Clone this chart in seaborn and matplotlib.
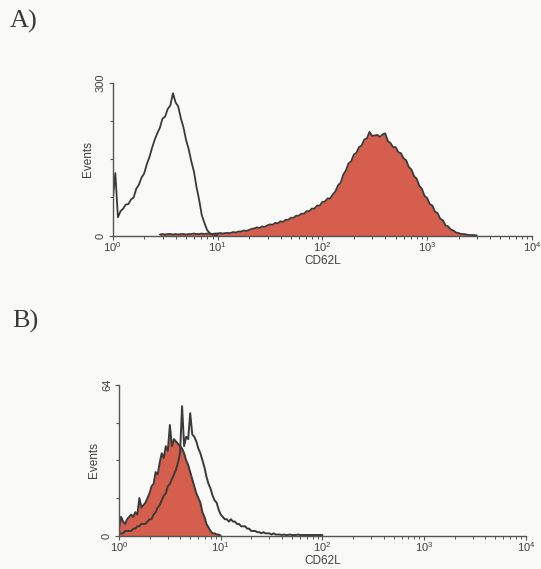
import numpy as np
import matplotlib
matplotlib.use("Agg")
import matplotlib.pyplot as plt
import seaborn as sns
from matplotlib.ticker import FixedLocator, LogLocator, NullFormatter

# ---------------- data ----------------
# channel grids are given in decades (log10 of CD62L intensity)
a_open_start, a_open_step = 0.0, 0.025
a_open_counts = [68, 123, 36, 48, 53, 61, 62, 71, 75, 92, 100, 114, 122, 140, 154, 172,
                 188, 201, 212, 230, 234, 249, 256, 280, 262, 254, 231, 213, 188, 170,
                 146, 126, 95, 70, 40, 25, 11, 5, 2, 1, 1]

a_fill_start, a_fill_step = 0.45, 0.025
a_fill_counts = [2, 3, 2, 3, 3, 2, 3, 2, 3, 3, 2, 3, 3, 4, 3, 3, 4, 3, 4, 4, 3, 4, 4, 5, 4, 5, 5,
                 5, 7, 6, 8, 8, 10, 9, 11, 13, 14,
                 16, 15, 18, 17, 20, 22, 21, 25, 24, 28,
                 27, 31, 31, 35, 35, 39, 39, 43, 43, 48,
                 48, 53, 53, 59, 59, 66, 67, 73, 73, 81,
                 87, 99, 104, 120, 128, 142, 146, 159, 163, 174,
                 177, 189, 191, 204, 196, 197, 198, 194, 199, 201,
                 186, 182, 174, 174, 164, 162, 152, 148, 135, 130,
                 117, 112, 98, 92, 78, 74, 62, 59, 47, 44,
                 33, 30, 20, 18, 12, 10, 6, 5, 3, 3,
                 2, 1, 1, 1, 0]

b_fill_start, b_fill_step = 0.0, 0.02
b_fill_counts = [3, 8, 6, 5, 7, 8, 9, 8, 10, 9, 16, 12, 13, 14, 16, 18, 21, 22, 27, 26, 31,
                 35, 33, 38, 36, 47, 38, 41, 40, 39, 38, 37, 35, 32, 30, 27, 24, 21, 18, 16,
                 14, 10, 8, 5, 3.5, 2, 1, 1, 0.5, 0.5, 0]

b_open_start, b_open_step = 0.0, 0.02
b_open_counts = [1, 1, 1, 2, 2, 2, 2, 3, 3, 4, 4, 5, 5, 5, 6, 7, 7, 9, 10, 12, 13, 15, 17,
                 18, 21, 22, 24, 26, 28, 31, 35, 55, 38, 42, 41, 52, 43, 42, 40, 37, 35, 32,
                 29, 25, 22, 20, 17, 15, 14, 11, 9, 8, 7, 7, 6, 7, 6, 6, 5, 5, 4, 4, 4, 3,
                 3, 2, 2, 2, 1.5, 1.5, 1, 1.5, 1, 1, 1, 0.5, 1, 0.5, 0.5, 0.5, 0.3, 0.5,
                 0.3, 0.3, 0.5, 0.3, 0.3, 0.3, 0.5, 0.3, 0.3, 0.3, 0.3, 0.3, 0.3, 0.3, 0.3,
                 0.3, 0.3, 0.3, 0.3]

decade_labels = [r"$10^{0}$", r"$10^{1}$", r"$10^{2}$", r"$10^{3}$", r"$10^{4}$"]
x_label = "CD62L"
y_label = "Events"
panel_labels = ["A)", "B)"]
a_ymax, b_ymax = 300, 64

# ---------------- style ----------------
sns.set_theme(style="white")
plt.rcParams["font.family"] = ["Liberation Sans", "DejaVu Sans"]
plt.rcParams["mathtext.default"] = "regular"

BG = "#f9f9f7"
LINE = "#3a3a3a"
AXC = "#555555"
FILL = "#d55f4c"
TXT = "#404040"


def grid(start, step, counts):
    return 10 ** (start + step * np.arange(len(counts)))


fig = plt.figure(figsize=(5.41, 5.69), dpi=100, facecolor=BG)
axA = fig.add_axes([0.2083, 0.586, 0.775, 0.268])
axB = fig.add_axes([0.2200, 0.0585, 0.752, 0.265])


def style_axis(ax, ymax):
    ax.set_facecolor(BG)
    ax.set_xscale("log")
    ax.set_xlim(1, 1e4)
    ax.set_ylim(0, ymax)
    for s in ["top", "right"]:
        ax.spines[s].set_visible(False)
    for s in ["left", "bottom"]:
        ax.spines[s].set_color(AXC)
        ax.spines[s].set_linewidth(1.0)
    ax.xaxis.set_major_locator(FixedLocator([1, 10, 100, 1000, 10000]))
    ax.set_xticklabels(decade_labels)
    ax.xaxis.set_minor_locator(LogLocator(base=10, subs=np.arange(2, 10), numticks=20))
    ax.xaxis.set_minor_formatter(NullFormatter())
    ax.yaxis.set_major_locator(FixedLocator([0, ymax]))
    ax.set_yticklabels(["0", str(ymax)])
    ax.yaxis.set_minor_locator(FixedLocator([ymax / 4, ymax / 2, 3 * ymax / 4]))
    ax.tick_params(axis="x", which="major", direction="out", length=3, width=0.8,
                   color=AXC, labelsize=8, labelcolor=TXT, pad=0.5, bottom=True)
    ax.tick_params(axis="x", which="minor", direction="out", length=2, width=0.7,
                   color=AXC, bottom=True)
    ax.tick_params(axis="y", which="major", direction="out", length=3, width=0.8,
                   color=AXC, labelsize=8, labelcolor=TXT, pad=2, left=True,
                   labelrotation=90)
    ax.tick_params(axis="y", which="minor", direction="out", length=2.5, width=0.8,
                   color=AXC, left=True)
    for lab in ax.get_yticklabels():
        lab.set_va("center")
    ax.set_xlabel(x_label, fontsize=8.5, color=TXT, labelpad=0.5)
    ax.set_ylabel(y_label, fontsize=8.5, color=TXT, labelpad=1.5)


# Panel A
xa_f = grid(a_fill_start, a_fill_step, a_fill_counts)
axA.fill_between(xa_f, a_fill_counts, color=FILL, lw=0)
sns.lineplot(x=xa_f, y=a_fill_counts, ax=axA, color=LINE, lw=1.3,
             estimator=None, sort=False)
xa_o = grid(a_open_start, a_open_step, a_open_counts)
sns.lineplot(x=xa_o, y=a_open_counts, ax=axA, color=LINE, lw=1.3,
             estimator=None, sort=False)
style_axis(axA, a_ymax)

# Panel B
xb_f = grid(b_fill_start, b_fill_step, b_fill_counts)
axB.fill_between(xb_f, b_fill_counts, color=FILL, lw=0)
sns.lineplot(x=xb_f, y=b_fill_counts, ax=axB, color=LINE, lw=1.4,
             estimator=None, sort=False)
xb_o = grid(b_open_start, b_open_step, b_open_counts)
sns.lineplot(x=xb_o, y=b_open_counts, ax=axB, color=LINE, lw=1.4,
             estimator=None, sort=False)
style_axis(axB, b_ymax)

fig.text(10 / 541, 1 - 21 / 569, panel_labels[0], fontsize=19, color="#3a3a3a",
         family=["Liberation Serif", "DejaVu Serif"], ha="left", va="center")
fig.text(12 / 541, 1 - 321 / 569, panel_labels[1], fontsize=19, color="#3a3a3a",
         family=["Liberation Serif", "DejaVu Serif"], ha="left", va="center")

fig.savefig("out.png", dpi=100, facecolor=BG)
